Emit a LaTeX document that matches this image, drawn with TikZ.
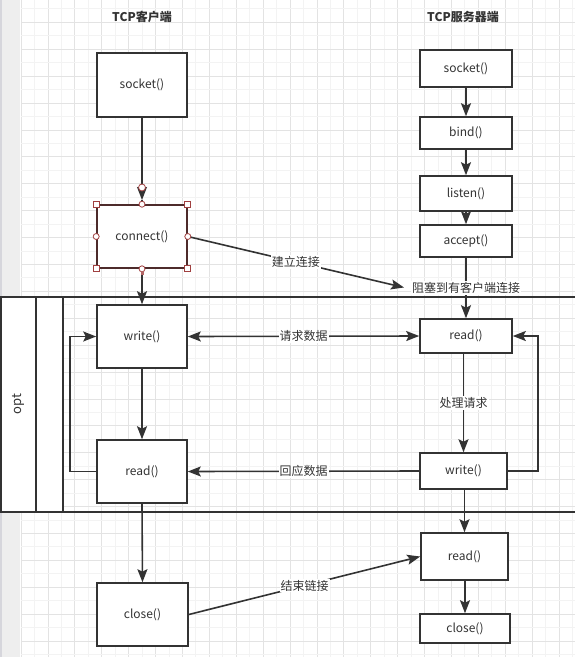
\documentclass[tikz,border=0pt]{standalone}
\usepackage{fontspec}
\setmainfont{Noto Sans CJK SC}
\usetikzlibrary{arrows.meta}
\definecolor{ink}{HTML}{333333}
\definecolor{gdark}{HTML}{E3E3E3}
\definecolor{glight}{HTML}{F3F3F3}
\definecolor{strip}{HTML}{EEEEEE}
\definecolor{stripedge}{HTML}{D6D6DC}
\definecolor{selbord}{HTML}{4D2B2B}
\definecolor{handle}{HTML}{A04040}
\tikzset{
  box/.style={draw=ink, line width=1.6pt, fill=white, text=ink, inner sep=0pt,
    font=\fontsize{12}{14}\selectfont},
  conn/.style={draw=ink, line width=1.6pt},
  arr/.style={conn, -{Stealth[length=13pt,width=10pt,inset=2.5pt]}},
  darr/.style={conn, {Stealth[length=13pt,width=10pt,inset=2.5pt]}-{Stealth[length=13pt,width=10pt,inset=2.5pt]}},
  lbl/.style={fill=white, text=ink, inner sep=1pt, font=\fontsize{12}{14}\selectfont},
  ttl/.style={text=ink, font=\fontsize{12}{14}\selectfont\bfseries},
  frameline/.style={draw=ink, line width=2pt},
  hsq/.style={draw=handle, fill=white, line width=0.8pt, minimum size=6pt, inner sep=0pt},
  hci/.style={draw=handle, fill=white, line width=0.8pt, circle, minimum size=6pt, inner sep=0pt},
}
\begin{document}
\begin{tikzpicture}[x=1pt,y=-1pt]
\useasboundingbox (0,0) rectangle (575,657);
% background
\fill[white] (0,0) rectangle (575,657);
\fill[strip] (0,0) rectangle (20,657);
\fill[stripedge] (0,0) rectangle (2,657);
% grid
\foreach \k in {0,...,41} {
  \pgfmathsetmacro\xx{21+13.45*\k}
  \pgfmathparse{int(mod(\k,2))}
  \ifnum\pgfmathresult=0
    \draw[gdark, line width=0.8pt] (\xx,0) -- (\xx,657);
  \else
    \draw[glight, line width=0.8pt] (\xx,0) -- (\xx,657);
  \fi
}
\foreach \k in {-7,...,41} {
  \pgfmathsetmacro\yy{103+13.45*\k}
  \pgfmathparse{int(mod(\k+100,2))}
  \ifnum\pgfmathresult=0
    \draw[gdark, line width=0.8pt] (21,\yy) -- (575,\yy);
  \else
    \draw[glight, line width=0.8pt] (21,\yy) -- (575,\yy);
  \fi
}
% opt frame
\fill[white] (0,297) rectangle (63,512);
\draw[frameline] (0,297) -- (575,297);
\draw[frameline] (0,512) -- (575,512);
\draw[frameline] (1,297) -- (1,512);
\draw[frameline] (36,297) -- (36,512);
\draw[frameline] (63,297) -- (63,512);
\node[text=ink, font=\fontsize{13}{15}\selectfont, rotate=90] (opt) at (18.5,404) {opt};
% titles
\node[ttl] (tc) at (142,17) {TCP客户端};
\node[ttl] (ts) at (463,17) {TCP服务器端};
% client boxes
\node[box, minimum width=90pt, minimum height=64pt] (csock) at (142,85) {socket()};
\node[box, draw=selbord, minimum width=90pt, minimum height=63pt] (cconn) at (142,236.5) {connect()};
\node[box, minimum width=90pt, minimum height=63pt] (cwrite) at (142,336.5) {write()};
\node[box, minimum width=90pt, minimum height=63pt] (cread) at (142,471.5) {read()};
\node[box, minimum width=91pt, minimum height=63pt] (cclose) at (142.5,614.5) {close()};
% server boxes
\node[box, minimum width=92pt, minimum height=37pt] (ssock) at (466,68.5) {socket()};
\node[box, minimum width=92pt, minimum height=32pt] (sbind) at (466,133) {bind()};
\node[box, minimum width=92pt, minimum height=35pt] (slisten) at (466,193.5) {listen()};
\node[box, minimum width=92pt, minimum height=32pt] (saccept) at (466,241) {accept()};
\node[box, minimum width=92pt, minimum height=34pt] (sread) at (466,336) {read()};
\node[box, minimum width=87pt, minimum height=36pt] (swrite) at (463.5,471) {write()};
\node[box, minimum width=87pt, minimum height=47pt] (sread2) at (464.5,556.5) {read()};
\node[box, minimum width=90pt, minimum height=29pt] (sclose) at (465,628.5) {close()};
% client connectors
\coordinate (cconntop) at (142,200);
\draw[arr] (csock.south) -- (cconntop);
\draw[conn] (cconntop) -- (cconn.north);
\draw[arr] (cconn.south) -- (cwrite.north);
\draw[arr] (cwrite.south) -- (cread.north);
\draw[arr] (cread.south) -- (cclose.north);
\coordinate (cl1) at (70,471.5);
\coordinate (cl2) at (70,336.5);
\draw[arr] (cread.west) -- (cl1) -- (cl2) -- (cwrite.west);
% server connectors
\draw[arr] (ssock.south) -- (sbind.north);
\draw[arr] (sbind.south) -- (slisten.north);
\draw[arr] (slisten.south) -- (saccept.north);
\draw[arr] (saccept.south) -- (sread.north);
\node[lbl] (block) at (466,288) {阻塞到有客户端连接};
\draw[arr] (sread.south -| swrite.north) -- node[lbl] (proc) {处理请求} (swrite.north);
\draw[arr] (swrite.south -| sread2.north) -- (sread2.north);
\draw[arr] (sread2.south -| sclose.north) -- (sclose.north);
\coordinate (sl1) at (538,471);
\coordinate (sl2) at (538,336);
\draw[arr] (swrite.east) -- (sl1) -- (sl2) -- (sread.east);
% cross connectors
\coordinate (blockarrow) at (404,287.5);
\draw[arr] (cconn.east) -- node[lbl] (est) {建立连接} (blockarrow);
\draw[darr] (cwrite.east) -- node[lbl] (req) {请求数据} (sread.west);
\draw[arr] (swrite.west) -- node[lbl] (resp) {回应数据} (cread.east);
\draw[arr] (cclose.east) -- node[lbl, pos=0.5] (fin) {结束链接} (sread2.west);
% selection handles on connect()
\foreach \a/\n in {north west/h1, north east/h2, south west/h3, south east/h4} {
  \node[hsq] (\n) at (cconn.\a) {};
}
\foreach \a/\n in {north/h5, south/h6, west/h7, east/h8} {
  \node[hci] (\n) at (cconn.\a) {};
}
\node[hci, minimum size=7pt] (h9) at (142,187.5) {};
\fill[handle!80] (140.5,271) rectangle (143.5,275);
\end{tikzpicture}
\end{document}
